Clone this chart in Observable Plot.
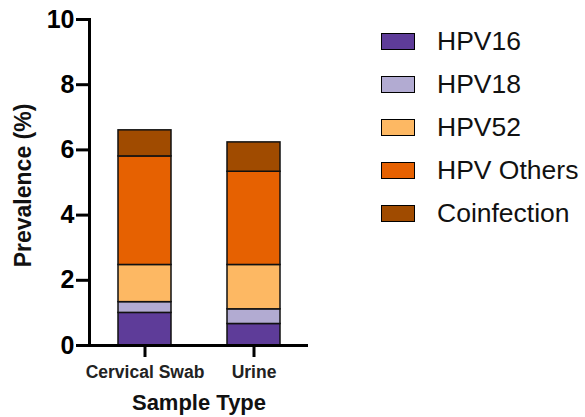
<!DOCTYPE html>
<html>
<head>
<meta charset="utf-8">
<script src="https://cdn.jsdelivr.net/npm/d3@7"></script>
<script src="https://cdn.jsdelivr.net/npm/@observablehq/plot@0.6"></script>
<style>
  html, body { margin: 0; padding: 0; background: #fff; }
  #wrap { position: relative; width: 585px; height: 417px; font-family: "Liberation Sans", Arial, sans-serif; }
  #legend { position: absolute; left: 381px; top: 0; }
  .item { position: absolute; left: 0; width: 204px; height: 30px; display: flex; align-items: center; }
  .sw { width: 32px; height: 15px; border: 1.5px solid #000; box-sizing: content-box; }
  .lab { margin-left: 22px; font-size: 26.5px; color: #111; white-space: nowrap; }
</style>
</head>
<body>
<div id="wrap"></div>
<script>
const samples = ["Cervical Swab", "Urine"];
const types = ["HPV16", "HPV18", "HPV52", "HPV Others", "Coinfection"];
const cervicalSwab = [1.0, 0.33, 1.14, 3.33, 0.8];
const urine = [0.66, 0.45, 1.36, 2.86, 0.9];
const colors = ["#5e3c99", "#b2abd2", "#fdb863", "#e66101", "#a04b00"];
const yTicks = [0, 2, 4, 6, 8, 10];

const data = [];
types.forEach((t, i) => data.push({sample: samples[0], type: t, value: cervicalSwab[i]}));
types.forEach((t, i) => data.push({sample: samples[1], type: t, value: urine[i]}));

const font = "Liberation Sans, Arial, sans-serif";

const chart = Plot.plot({
  width: 585,
  height: 417,
  marginLeft: 89,
  marginRight: 277,
  marginTop: 19,
  marginBottom: 72,
  style: {fontFamily: font, background: "#fff", overflow: "visible"},
  x: {domain: samples, paddingInner: 0.514, paddingOuter: 0.257, label: null},
  y: {domain: [0, 10], ticks: yTicks, label: null},
  color: {domain: types, range: colors},
  marks: [
    Plot.barY(data, {x: "sample", y: "value", fill: "type", stroke: "#111", strokeWidth: 1.5, order: types}),
    Plot.axisY({ticks: yTicks, tickSize: 13, tickPadding: 2, tickFormat: d3.format("d"), fontSize: 25, fontWeight: "bold", strokeWidth: 3, stroke: "#000", fill: "#000", label: null}),
    Plot.axisX({tickSize: 12, tickPadding: 8, fontSize: 17.5, fontWeight: "bold", strokeWidth: 3, stroke: "#000", fill: "#222", label: null}),
    Plot.frame({anchor: "left", strokeWidth: 3, stroke: "#000"}),
    Plot.ruleY([0], {strokeWidth: 3, stroke: "#000"}),
    Plot.text(["Sample Type"], {frameAnchor: "bottom", dy: 57, lineAnchor: "middle", textAnchor: "middle", fontSize: 22, fontWeight: "bold", fill: "#111"}),
    Plot.text(["Prevalence (%)"], {frameAnchor: "left", dx: -66, dy: 3, rotate: -90, lineAnchor: "middle", textAnchor: "middle", fontSize: 23, fontWeight: "bold", fill: "#111"})
  ]
});
const wrap = document.getElementById("wrap");
wrap.appendChild(chart);

const legend = document.createElement("div");
legend.id = "legend";
types.forEach((t, i) => {
  const item = document.createElement("div");
  item.className = "item";
  item.style.top = (41 + i * 43.2 - 15) + "px";
  const sw = document.createElement("div");
  sw.className = "sw";
  sw.style.background = colors[i];
  const lab = document.createElement("span");
  lab.className = "lab";
  lab.textContent = t;
  item.appendChild(sw);
  item.appendChild(lab);
  legend.appendChild(item);
});
wrap.appendChild(legend);
</script>
</body>
</html>
